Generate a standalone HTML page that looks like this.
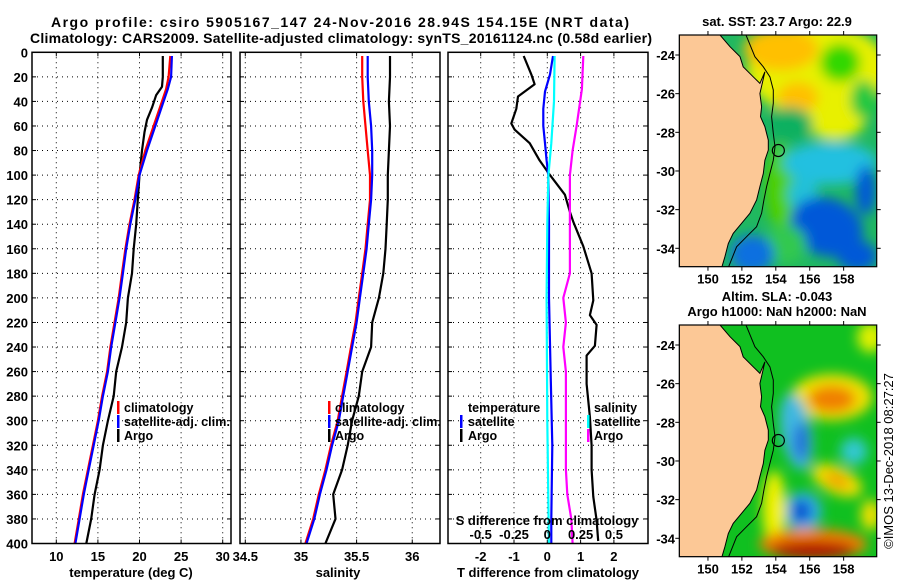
<!DOCTYPE html>
<html><head><meta charset="utf-8"><style>
html,body{margin:0;padding:0;background:#fff;}
svg{display:block;font-family:"Liberation Sans",Arial,sans-serif;font-weight:bold;}
</style></head><body>
<svg id="c" width="900" height="580" viewBox="0 0 900 580" xmlns="http://www.w3.org/2000/svg">
<defs>
<filter id="blur6" filterUnits="userSpaceOnUse" x="600" y="0" width="300" height="580"><feGaussianBlur stdDeviation="6"/></filter>
<clipPath id="clipTop"><rect x="679.3" y="35" width="197.4" height="231.7"/></clipPath>
<clipPath id="clipBot"><rect x="679.3" y="325" width="197.4" height="231.7"/></clipPath>
</defs>
<text x="340" y="27" text-anchor="middle" font-size="14" textLength="578">Argo profile: csiro 5905167_147 24-Nov-2016 28.94S 154.15E (NRT data)</text>
<text x="341" y="43" text-anchor="middle" font-size="14" textLength="622">Climatology: CARS2009. Satellite-adjusted climatology: synTS_20161124.nc (0.58d earlier)</text>
<g id="g"></g>
</svg>
<script>
// ---------- data ----------
const depthTicks = [0,20,40,60,80,100,120,140,160,180,200,220,240,260,280,300,320,340,360,380,400];
const tempTicks = [10,15,20,25,30];
const salTicks = [34.5,35,35.5,36];
const salTickLabels = ["34.5","35","35.5","36"];
const tdiffTicks = [-2,-1,0,1,2];
const sdiffTicks = [-0.5,-0.25,0,0.25,0.5];
const sdiffTickLabels = ["-0.5","-0.25","0","0.25","0.5"];

const argoTDepth = [3,20,28,35,45,55,65,80,100,120,140,160,180,200,220,240,260,280,300,320,340,360,380,400];
const argoT = [22.8,22.8,22.7,22.0,21.5,20.9,20.6,20.3,20.0,19.8,19.6,19.3,19.1,18.6,18.4,17.9,17.2,16.9,16.2,15.6,15.2,14.6,14.2,13.6];
const climDepth = [3,20,30,40,60,80,100,120,140,160,180,200,220,240,260,280,300,320,340,360,380,400];
const climT = [23.7,23.5,23.2,22.7,21.7,20.7,19.9,19.4,18.8,18.3,17.9,17.5,17.0,16.5,16.1,15.5,15.0,14.4,13.8,13.2,12.7,12.2];
const satT = [23.9,23.8,23.4,22.9,21.9,20.9,20.0,19.5,18.9,18.4,18.0,17.6,17.1,16.6,16.2,15.6,15.1,14.5,13.9,13.3,12.8,12.3];

const salDepth = [3,20,40,60,80,100,120,140,160,180,200,220,240,260,280,300,320,340,360,380,400];
const argoS = [35.80,35.80,35.79,35.80,35.79,35.78,35.78,35.77,35.76,35.74,35.70,35.64,35.63,35.55,35.52,35.46,35.42,35.37,35.29,35.31,35.22];
const climS = [35.55,35.55,35.56,35.58,35.60,35.62,35.62,35.60,35.58,35.55,35.52,35.49,35.45,35.41,35.37,35.33,35.27,35.22,35.16,35.11,35.04];
const satS = [35.60,35.60,35.61,35.63,35.64,35.64,35.63,35.61,35.59,35.56,35.53,35.50,35.46,35.42,35.38,35.34,35.28,35.23,35.17,35.12,35.05];

const argoTdiffDepth = [3,18,26,36,46,58,63,74,88,100,116,130,138,158,180,202,214,222,239,247,270,297,320,340,362,381,398];
const argoTdiff = [-0.71,-0.48,-0.38,-0.88,-0.93,-1.08,-0.98,-0.53,-0.23,0.08,0.53,0.68,0.78,1.08,1.33,1.38,1.28,1.48,1.43,1.18,1.18,1.28,1.33,1.33,1.38,1.48,1.53];
const satTdiffDepth = [3,18,32,46,60,74,88,100,140,200,260,320,380,400];
const satTdiff = [0.17,0.08,-0.07,-0.12,-0.12,-0.07,-0.02,0.03,0.05,0.05,0.10,0.15,0.12,0.12];
const satSdiffDepth = [3,40,74,100,140,200,300,400];
const satSdiff = [0.055,0.05,0.03,0.008,0,-0.005,0,0.012];
const argoSdiffDepth = [3,30,60,80,100,140,180,200,220,240,260,300,340,360,380,400];
const argoSdiff = [0.27,0.26,0.22,0.19,0.17,0.17,0.17,0.12,0.14,0.12,0.14,0.14,0.14,0.15,0.18,0.19];

const latTicks = [-24,-26,-28,-30,-32,-34];
const lonTicks = [150,152,154,156,158];
const argoLon = 154.15, argoLat = -28.94;
const coastLon = [150.71,151.30,151.89,152.08,152.67,153.06,153.36,153.06,153.16,153.10,153.36,153.56,153.56,153.36,153.26,153.06,152.87,152.47,151.98,151.49,151.20,151.00,150.81];
const coastLat = [-22.97,-23.57,-24.09,-24.61,-25.13,-25.47,-24.87,-25.99,-26.68,-27.19,-27.71,-28.40,-28.92,-29.44,-30.13,-30.81,-31.50,-32.19,-32.71,-33.23,-33.75,-34.44,-35.0];
const isoLon = [152.24,152.77,153.26,153.65,153.85,153.85,153.75,153.85,153.95,153.85,153.65,153.46,153.30,153.16,152.87,152.28,151.69,151.20];
const isoLat = [-23.06,-24.09,-24.61,-25.13,-25.81,-26.5,-27.19,-28.06,-28.75,-29.44,-30.13,-30.81,-31.5,-32.19,-32.88,-33.4,-33.92,-35.0];

// ---------- helpers ----------
const NS = "http://www.w3.org/2000/svg";
const G = document.getElementById('g');
function mk(tag, attrs, parent){ const e=document.createElementNS(NS,tag); for(const k in attrs) e.setAttribute(k,attrs[k]); (parent||G).appendChild(e); return e; }
function txt(x,y,s,anchor,size,name){ const t=mk('text',{x:x,y:y,'text-anchor':anchor||'start','font-size':size||13}); t.textContent=s;
  
  
  return t; }

const TOP=52.3, BOT=543.5;
const yD = d => TOP + d*(BOT-TOP)/400;
const xT = t => 56.3 + (t-10)*8.32;
const xS = s => 245.3 + (s-34.5)*111.3;
const xTd = d => 547.3 + d*33.3;
const xSd = s => 547.3 + s*133.2;

function frame(x0,x1,name){
  const r=mk('rect',{x:x0,y:TOP,width:x1-x0,height:BOT-TOP,fill:'none',stroke:'#000','stroke-width':1.5});
  
  
}
function grid(x0,x1,xs){
  depthTicks.forEach(d=>{ if(d>0&&d<400){ const l=mk('line',{x1:x0,x2:x1,y1:yD(d),y2:yD(d),stroke:'#000','stroke-width':1,'stroke-dasharray':'1,4'});
     
    mk('line',{x1:x0,x2:x0+4,y1:yD(d),y2:yD(d),stroke:'#000'}); mk('line',{x1:x1-4,x2:x1,y1:yD(d),y2:yD(d),stroke:'#000'}); }});
  xs.forEach(x=>{ if(x>x0+2&&x<x1-2){ const l=mk('line',{x1:x,x2:x,y1:TOP,y2:BOT,stroke:'#000','stroke-width':1,'stroke-dasharray':'1,4'});
     
    mk('line',{x1:x,x2:x,y1:TOP,y2:TOP+4,stroke:'#000'}); mk('line',{x1:x,x2:x,y1:BOT-4,y2:BOT,stroke:'#000'}); }});
}
function series(depths, vals, xf, color, name){
  let d=''; depths.forEach((dp,i)=>{ d+=(i?'L':'M')+xf(vals[i]).toFixed(1)+','+yD(dp).toFixed(1); });
  const p=mk('path',{d:d,fill:'none',stroke:color,'stroke-width':2.2,'stroke-linejoin':'round'});
  
  
}
function legMark(x,y,color){ mk('rect',{x:x,y:y-11,width:2.5,height:13,fill:color}); }

// ---------- panel 1: temperature ----------
grid(32,231,tempTicks.map(xT));
series(argoTDepth,argoT,xT,'#000','argo-temperature-line');
series(climDepth,climT,xT,'#f00','climatology-temperature-line');
series(climDepth,satT,xT,'#00f','satellite-temperature-line');
frame(32,231,'temperature-panel-frame');
depthTicks.forEach(d=>txt(28,yD(d)+5,String(d),'end',13,'depth-tick-label'));
tempTicks.forEach(t=>txt(xT(t),561,String(t),'middle',13,'temperature-tick-label'));
txt(131,577,'temperature (deg C)','middle',13,'temperature-axis-title');
legMark(117,412,'#f00'); txt(124,412,'climatology','start',12.5,'legend-climatology');
legMark(117,426,'#00f'); const l1=txt(124,426,'satellite-adj. clim.','start',12.5,'legend-satellite'); l1.setAttribute('textLength','106');
legMark(117,440,'#000'); txt(124,440,'Argo','start',12.5,'legend-argo');

// ---------- panel 2: salinity ----------
grid(240,440,salTicks.map(xS));
series(salDepth,argoS,xS,'#000','argo-salinity-line');
series(salDepth,climS,xS,'#f00','climatology-salinity-line');
series(salDepth,satS,xS,'#00f','satellite-salinity-line');
frame(240,440,'salinity-panel-frame');
salTicks.forEach((s,i)=>txt(xS(s),561,salTickLabels[i],'middle',13,'salinity-tick-label'));
txt(338,577,'salinity','middle',13,'salinity-axis-title');
legMark(328,412,'#f00'); txt(335,412,'climatology','start',12.5,'legend-climatology');
legMark(328,426,'#00f'); const l2=txt(335,426,'satellite-adj. clim.','start',12.5,'legend-satellite'); l2.setAttribute('textLength','106');
legMark(328,440,'#000'); txt(335,440,'Argo','start',12.5,'legend-argo');

// ---------- panel 3: differences ----------
grid(448,648,tdiffTicks.map(xTd));
series(argoTdiffDepth,argoTdiff,xTd,'#000','argo-temperature-difference-line');
series(satTdiffDepth,satTdiff,xTd,'#00f','satellite-temperature-difference-line');
series(satSdiffDepth,satSdiff,xSd,'#0ff','satellite-salinity-difference-line');
series(argoSdiffDepth,argoSdiff,xSd,'#f0f','argo-salinity-difference-line');
frame(448,648,'difference-panel-frame');
tdiffTicks.forEach(t=>txt(xTd(t),561,String(t),'middle',13,'t-difference-tick-label'));
txt(548,577,'T difference from climatology','middle',13,'t-difference-axis-title');
sdiffTicks.forEach((s,i)=>txt(xSd(s),539,sdiffTickLabels[i],'middle',13,'s-difference-tick-label'));
txt(547,525,'S difference from climatology','middle',13,'s-difference-axis-title');
txt(468,412,'temperature','start',12.5,'legend-temperature-heading');
legMark(460,426,'#00f'); txt(468,426,'satellite','start',12.5,'legend-t-satellite');
legMark(460,440,'#000'); txt(468,440,'Argo','start',12.5,'legend-t-argo');
txt(594,412,'salinity','start',12.5,'legend-salinity-heading');
legMark(587,426,'#0ff'); txt(594,426,'satellite','start',12.5,'legend-s-satellite');
legMark(587,440,'#f0f'); txt(594,440,'Argo','start',12.5,'legend-s-argo');

// ---------- maps ----------
const MX0=679.3, MX1=876.7;
const mx = lon => MX0 + (lon-148.31)*16.96;
function drawMap(y0, y1, latRef, blobs, bg, clip, name){
  const my = lat => latRef + (-24-lat)*19.33;
  const grp = mk('g',{'clip-path':'url(#'+clip+')'});
  
  
  mk('rect',{x:MX0,y:y0,width:MX1-MX0,height:y1-y0,fill:bg},grp);
  const bg2=mk('g',{filter:'url(#blur6)'},grp);
  blobs.forEach(b=>mk('ellipse',{cx:mx(b[0]),cy:my(b[1]),rx:b[2]*16.96,ry:b[3]*19.33,fill:b[4],transform:'rotate('+(b[5]||0)+' '+mx(b[0])+' '+my(b[1])+')'},bg2));
  let d='M'+MX0+','+y0;
  coastLon.forEach((lo,i)=>{ d+='L'+mx(lo).toFixed(1)+','+(i==0?y0:my(coastLat[i])).toFixed(1); });
  d+='L'+mx(150.81)+','+y1+'L'+MX0+','+y1+'Z';
  const land=mk('path',{d:d,fill:'#fcc896',stroke:'#000','stroke-width':1},grp);
   
  let di=''; isoLon.forEach((lo,i)=>{ di+=(i?'L':'M')+mx(lo).toFixed(1)+','+(i==0?y0:my(isoLat[i])).toFixed(1); });
  const iso=mk('path',{d:di,fill:'none',stroke:'#000','stroke-width':1},grp);
   
  const c=mk('circle',{cx:mx(argoLon),cy:my(argoLat),r:6,fill:'none',stroke:'#000','stroke-width':1.2},grp);
   
  mk('rect',{x:MX0,y:y0,width:MX1-MX0,height:y1-y0,fill:'none',stroke:'#000','stroke-width':1.2});
  latTicks.forEach(l=>{ txt(675,my(l)+5,String(l),'end',13,'latitude-tick-label');
    mk('line',{x1:MX0-4,x2:MX0,y1:my(l),y2:my(l),stroke:'#000'}); mk('line',{x1:MX1,x2:MX1+4,y1:my(l),y2:my(l),stroke:'#000'}); });
  lonTicks.forEach(l=>{ txt(mx(l),y1+17,String(l),'middle',13,'longitude-tick-label');
    mk('line',{x1:mx(l),x2:mx(l),y1:y0-4,y2:y0,stroke:'#000'}); mk('line',{x1:mx(l),x2:mx(l),y1:y1,y2:y1+4,stroke:'#000'}); });
}
// SST blobs: [lon, lat, rxDeg, ryDeg, color, rot]
drawMap(35,266.7,55,[
  [156.5,-24.8,4.2,2.4,'#e8f000'],[157.5,-27.2,1.8,1.2,'#e8f000'],[154.3,-23.7,2.2,1.1,'#ffc000'],[155.3,-26.2,1.2,0.8,'#ffc000'],
  [157.8,-24.4,1.2,1.0,'#30d800'],[159.2,-26.3,0.8,1.0,'#20c840'],
  [154.8,-27.6,1.4,0.9,'#10b060'],[154.3,-30.8,0.9,2.2,'#50d000'],[157.2,-29.6,2.8,1.1,'#20c0e0'],
  [155.6,-31.2,0.9,0.9,'#20c0d8'],[157,-32.9,2.2,1.5,'#0058d8',20],[159.3,-31,0.6,1.3,'#0058d8'],
  [154.6,-33.8,1.2,1.0,'#30c850'],[152.6,-34.3,1.3,1.0,'#1070e0'],[158.8,-34.4,1.2,0.8,'#0058d8']
],'#20b860','clipTop','sst-map');
drawMap(325,556.7,345,[
  [157.3,-26.7,2.4,1.2,'#f0e000'],[157.3,-26.8,1.4,0.7,'#f08000'],[155.2,-28.5,0.9,2.0,'#40b8e0',-10],
  [155.5,-29,0.45,1.0,'#2070d8'],[155.6,-32.6,1.1,1.0,'#30b0e8'],[155.5,-32.6,0.6,0.6,'#0050d0'],
  [158.6,-29.5,0.8,0.7,'#30c8d0'],[157.6,-31,1.6,0.7,'#f0e000',25],[157.6,-31,0.8,0.35,'#f0a000',25],
  [159.6,-32.8,0.6,0.8,'#f0e000'],[159.6,-23.6,0.8,0.8,'#e0f000'],[153.9,-32.5,0.7,2.0,'#f0f000'],
  [156.2,-34.3,3.2,0.8,'#f08000'],[156.2,-34.6,2.5,0.45,'#b00000']
],'#10c020','clipBot','sla-map');

txt(777,26,'sat. SST: 23.7 Argo: 22.9','middle',13,'sst-map-title');
txt(777,301,'Altim. SLA: -0.043','middle',13,'sla-map-title');
txt(777,316,'Argo h1000: NaN h2000: NaN','middle',13,'argo-height-title');
const cr=txt(0,0,'©IMOS 13-Dec-2018 08:27:27','middle',13,'imos-credit');
cr.setAttribute('font-weight','normal');
cr.setAttribute('transform','translate(893,461) rotate(-90)');
</script>
</body></html>
